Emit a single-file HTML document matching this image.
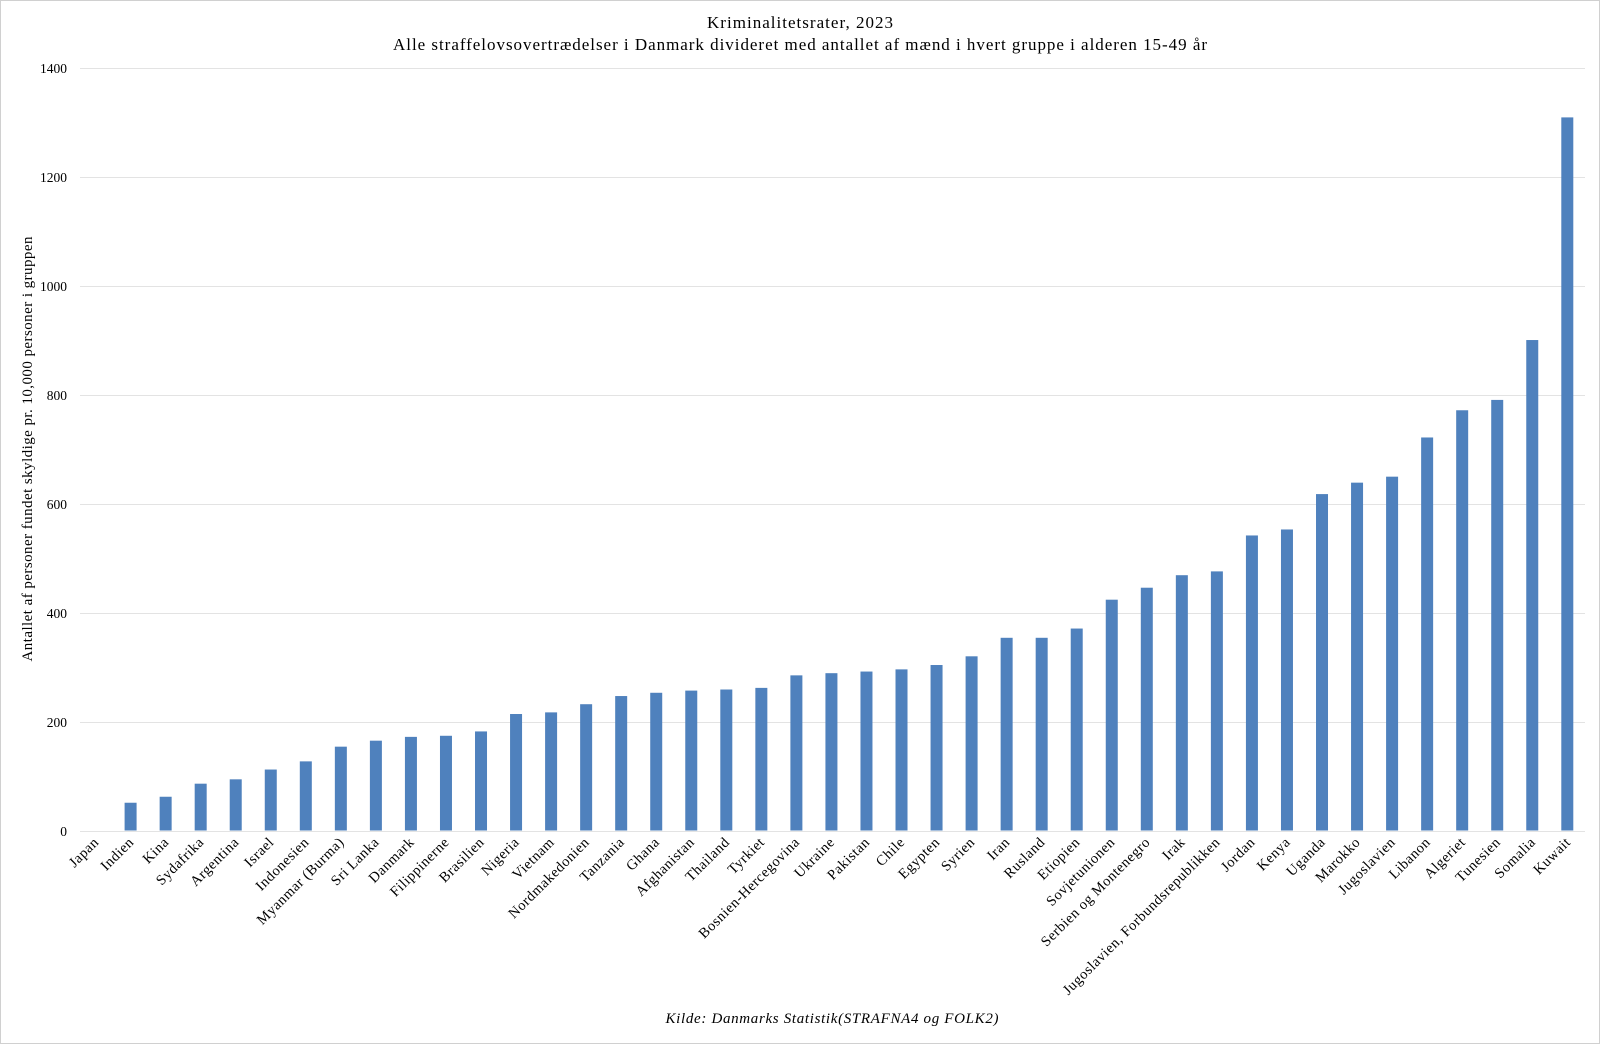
<!DOCTYPE html>
<html><head><meta charset="utf-8"><style>
html,body{margin:0;padding:0;background:#fff}
svg{display:block;font-family:"Liberation Serif",serif}
</style></head><body>
<svg width="1600" height="1044" viewBox="0 0 1600 1044">
<rect x="0.5" y="0.5" width="1599" height="1043" fill="#fff" stroke="#d0d0d0"/>
<text x="800" y="28" font-size="17" text-anchor="middle" textLength="186" lengthAdjust="spacing">Kriminalitetsrater, 2023</text>
<text x="800" y="50" font-size="17" text-anchor="middle" textLength="814" lengthAdjust="spacing">Alle straffelovsovertrædelser i Danmark divideret med antallet af mænd i hvert gruppe i alderen 15-49 år</text>
<g id="grid" stroke="#e3e3e3" stroke-width="1"></g>
<g id="yt" font-size="13.5" text-anchor="end"></g>
<g id="bars" fill="#4f81bd"></g>
<g id="xl" font-size="14.5" text-anchor="end" letter-spacing="0.5"></g>
<text transform="translate(32,449) rotate(-90)" font-size="15" text-anchor="middle" textLength="425" lengthAdjust="spacing">Antallet af personer fundet skyldige pr. 10,000 personer i gruppen</text>
<text x="832" y="1023" font-size="15" font-style="italic" text-anchor="middle" textLength="333" lengthAdjust="spacing">Kilde: Danmarks Statistik(STRAFNA4 og FOLK2)</text>
</svg>
<script>
var d=[["Japan",0],["Indien",51],["Kina",62],["Sydafrika",86],["Argentina",94],["Israel",112],["Indonesien",127],["Myanmar (Burma)",154],["Sri Lanka",165],["Danmark",172],["Filippinerne",174],["Brasilien",182],["Nigeria",214],["Vietnam",217],["Nordmakedonien",232],["Tanzania",247],["Ghana",253],["Afghanistan",257],["Thailand",259],["Tyrkiet",262],["Bosnien-Hercegovina",285],["Ukraine",289],["Pakistan",292],["Chile",296],["Egypten",304],["Syrien",320],["Iran",354],["Rusland",354],["Etiopien",371],["Sovjetunionen",424],["Serbien og Montenegro",446],["Irak",469],["Jugoslavien, Forbundsrepublikken",476],["Jordan",542],["Kenya",553],["Uganda",618],["Marokko",639],["Jugoslavien",650],["Libanon",722],["Algeriet",772],["Tunesien",791],["Somalia",901],["Kuwait",1310]];
var NS="http://www.w3.org/2000/svg";
function el(t,a,p,txt){var e=document.createElementNS(NS,t);for(var k in a)e.setAttribute(k,a[k]);if(txt!=null)e.textContent=txt;document.getElementById(p).appendChild(e);}
var y0=830.5,k=(830.5-68.4)/1400,L=80,R=1585,step=(1567.3-130.6)/41,x0=130.6-step;
for(var v=0;v<=1400;v+=200){var y=Math.round(y0-v*k);el("line",{x1:L,x2:R,y1:y+.5,y2:y+.5},"grid");el("text",{x:67,y:y+5},"yt",v);}
d.forEach(function(r,i){var cx=x0+i*step;var h=r[1]*k;if(h>0)el("rect",{x:cx-6,y:y0-h,width:12,height:h},"bars");
el("text",{transform:"translate("+(cx+4)+",843) rotate(-45)"},"xl",r[0]);});
</script>
</body></html>
